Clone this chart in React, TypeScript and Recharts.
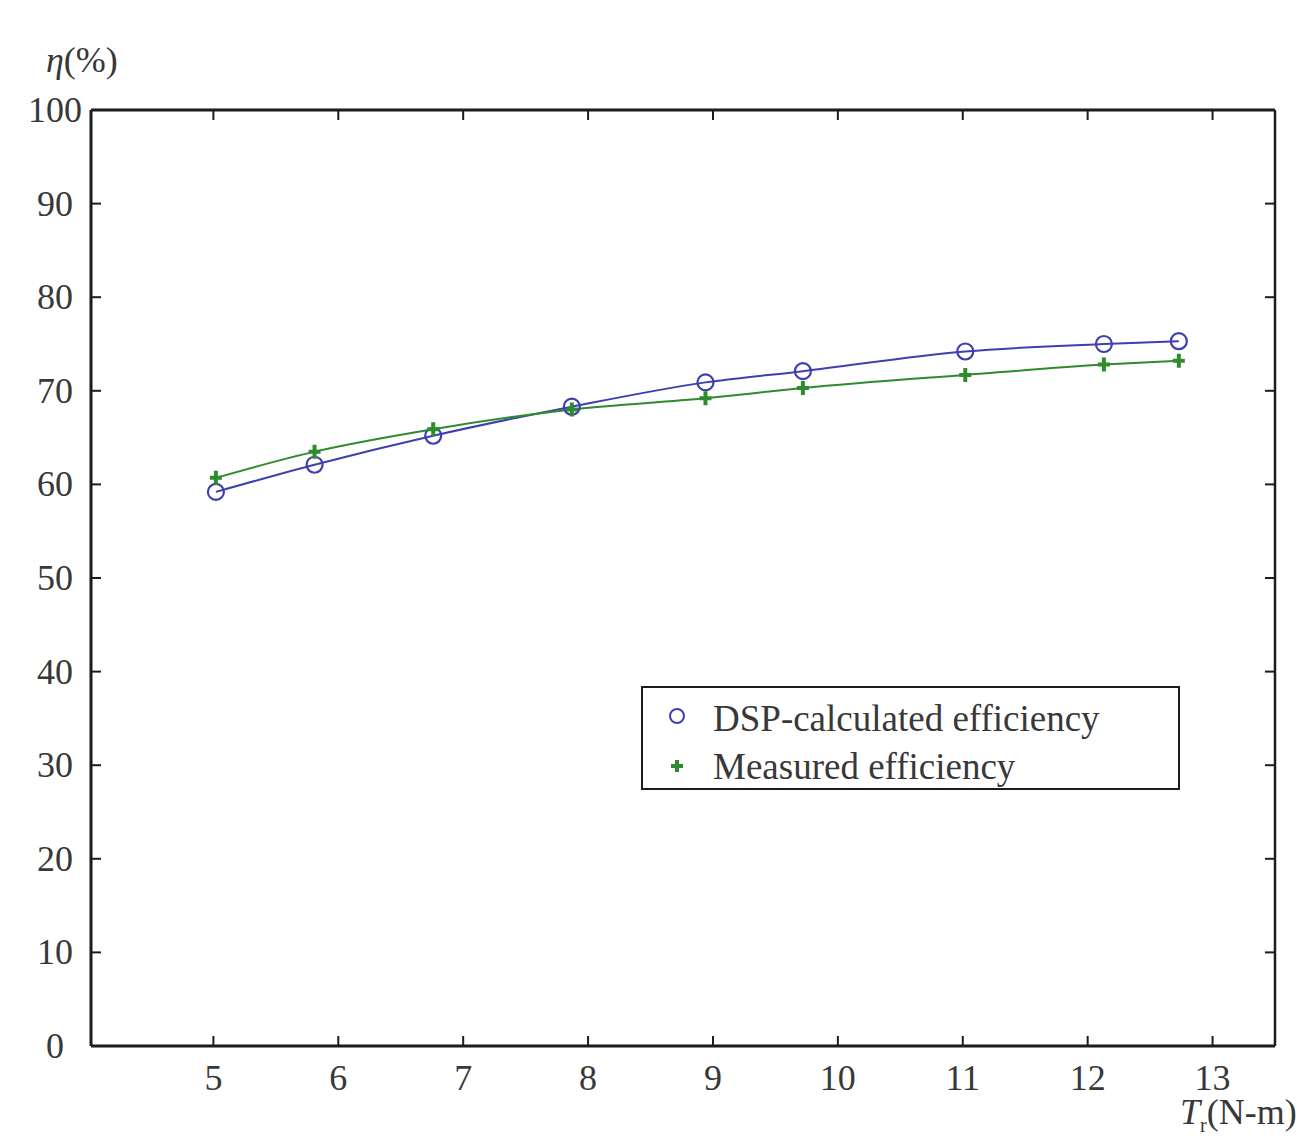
import React from "react";
import { LineChart, Line, XAxis, YAxis, Legend } from "recharts";

// torque T_r (N-m) and efficiency (%)
const torque = [5.02, 5.81, 6.76, 7.87, 8.94, 9.72, 11.02, 12.13, 12.73];
const dspEfficiency = [59.2, 62.1, 65.2, 68.3, 70.9, 72.1, 74.2, 75.0, 75.3];
const measuredEfficiency = [60.7, 63.5, 65.9, 68.0, 69.2, 70.3, 71.7, 72.8, 73.2];

const xTicks = [5, 6, 7, 8, 9, 10, 11, 12, 13];
const yTicks = [0, 10, 20, 30, 40, 50, 60, 70, 80, 90, 100];

const data = torque.map((t, i) => ({
  t,
  dsp: dspEfficiency[i],
  measured: measuredEfficiency[i],
}));

const font = '"Liberation Serif", "Times New Roman", serif';
const textColor = "#383838";
const axisColor = "#1c1c1c";
const blue = "#3f3fb0";
const green = "#2e8b2e";

const BottomTick = (props: any) => {
  const { x, y, payload } = props;
  return (
    <g>
      <line x1={x} y1={y} x2={x} y2={y - 10} stroke={axisColor} strokeWidth={2} />
      <text x={x} y={y + 44} textAnchor="middle" fontFamily={font} fontSize={36} fill={textColor}>
        {payload.value}
      </text>
    </g>
  );
};

const TopTick = (props: any) => {
  const { x, y } = props;
  return <line x1={x} y1={y} x2={x} y2={y + 10} stroke={axisColor} strokeWidth={2} />;
};

const LeftTick = (props: any) => {
  const { x, y, payload } = props;
  return (
    <g>
      <line x1={x} y1={y} x2={x + 10} y2={y} stroke={axisColor} strokeWidth={2} />
      <text x={x - 36} y={y + 12} textAnchor="middle" fontFamily={font} fontSize={36} fill={textColor}>
        {payload.value}
      </text>
    </g>
  );
};

const RightTick = (props: any) => {
  const { x, y } = props;
  return <line x1={x} y1={y} x2={x - 10} y2={y} stroke={axisColor} strokeWidth={2} />;
};

const CircleDot = (props: any) => {
  const { cx, cy, index } = props;
  return <circle key={"c" + index} cx={cx} cy={cy} r={8} fill="none" stroke={blue} strokeWidth={2.2} />;
};

const PlusDot = (props: any) => {
  const { cx, cy, index } = props;
  return (
    <path
      key={"p" + index}
      d={`M${cx - 6},${cy}L${cx + 6},${cy}M${cx},${cy - 7}L${cx},${cy + 7}`}
      stroke={green}
      strokeWidth={4}
    />
  );
};

const renderLegend = () => (
  <div
    style={{
      boxSizing: "border-box",
      width: 539,
      height: 104,
      border: `2px solid ${axisColor}`,
      background: "#fff",
      fontFamily: font,
      fontSize: 37,
      color: textColor,
      paddingTop: 6,
    }}
  >
    <div style={{ display: "flex", alignItems: "center", height: 48 }}>
      <svg width={70} height={48} style={{ flexShrink: 0 }}>
        <circle cx={34} cy={22} r={7} fill="none" stroke={blue} strokeWidth={2} />
      </svg>
      <span style={{ whiteSpace: "nowrap" }}>DSP-calculated efficiency</span>
    </div>
    <div style={{ display: "flex", alignItems: "center", height: 48 }}>
      <svg width={70} height={48} style={{ flexShrink: 0 }}>
        <path d="M28,24L40,24M34,18L34,30" stroke={green} strokeWidth={4} />
      </svg>
      <span style={{ whiteSpace: "nowrap" }}>Measured efficiency</span>
    </div>
  </div>
);

export default function App() {
  return (
    <div style={{ position: "absolute", left: 0, top: 0, width: 1316, height: 1136, background: "#fff", overflow: "hidden" }}>
      <LineChart
        width={1316}
        height={1136}
        data={data}
        margin={{ top: 109, right: 40, bottom: 30, left: 11 }}
      >
        <XAxis
          dataKey="t"
          type="number"
          domain={[4.02, 13.5]}
          allowDataOverflow
          ticks={xTicks}
          interval={0}
          height={60}
          tickSize={0}
          tickMargin={0}
          tickLine={false}
          tick={<BottomTick />}
          axisLine={{ stroke: axisColor, strokeWidth: 3 }}
        />
        <XAxis
          xAxisId="top"
          orientation="top"
          dataKey="t"
          type="number"
          domain={[4.02, 13.5]}
          allowDataOverflow
          ticks={xTicks}
          interval={0}
          height={1}
          tickSize={0}
          tickMargin={0}
          tickLine={false}
          tick={<TopTick />}
          axisLine={{ stroke: axisColor, strokeWidth: 3 }}
        />
        <YAxis
          type="number"
          domain={[0, 100]}
          allowDataOverflow
          ticks={yTicks}
          interval={0}
          width={80}
          tickSize={0}
          tickMargin={0}
          tickLine={false}
          tick={<LeftTick />}
          axisLine={{ stroke: axisColor, strokeWidth: 3 }}
        />
        <YAxis
          yAxisId="right"
          orientation="right"
          type="number"
          domain={[0, 100]}
          allowDataOverflow
          ticks={yTicks}
          interval={0}
          width={1}
          tickSize={0}
          tickMargin={0}
          tickLine={false}
          tick={<RightTick />}
          axisLine={{ stroke: axisColor, strokeWidth: 2.5 }}
        />
        <Line
          type="monotone"
          dataKey="dsp"
          stroke={blue}
          strokeWidth={2}
          dot={CircleDot}
          isAnimationActive={false}
        />
        <Line
          type="monotone"
          dataKey="measured"
          stroke={green}
          strokeWidth={2}
          dot={PlusDot}
          isAnimationActive={false}
        />
        <Legend
          layout="vertical"
          align="center"
          verticalAlign="middle"
          content={renderLegend}
          wrapperStyle={{ left: 641, top: 686, width: 539, height: 104 }}
        />
      </LineChart>
      <div
        style={{
          position: "absolute",
          left: 46,
          top: 40,
          fontFamily: font,
          fontSize: 36,
          lineHeight: "40px",
          color: textColor,
        }}
      >
        <i>η</i>(%)
      </div>
      <div
        style={{
          position: "absolute",
          left: 1180,
          top: 1092,
          fontFamily: font,
          fontSize: 36,
          lineHeight: "40px",
          color: textColor,
          whiteSpace: "nowrap",
        }}
      >
        <i>T</i>
        <span style={{ fontSize: 20, position: "relative", top: 8 }}>r</span>(N-m)
      </div>
    </div>
  );
}
